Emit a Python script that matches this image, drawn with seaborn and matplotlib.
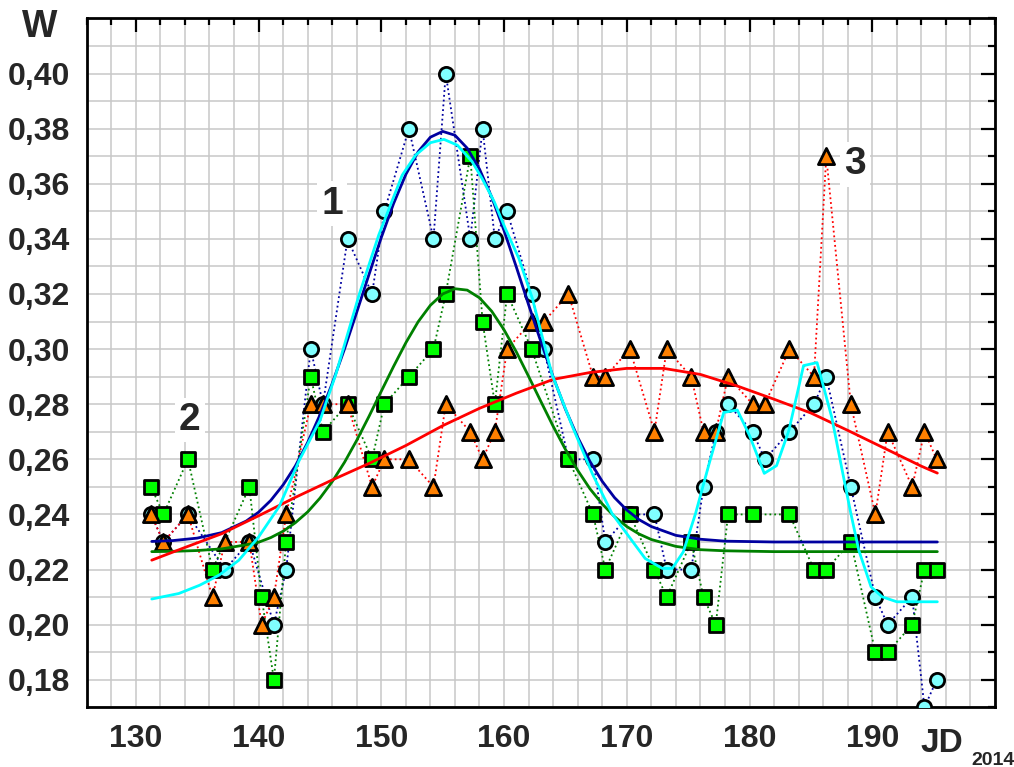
import numpy as np
import pandas as pd
import seaborn as sns
import matplotlib.pyplot as plt
from matplotlib.ticker import MultipleLocator, FuncFormatter

sns.set_theme(style="white")
plt.rcParams['font.family'] = ['Liberation Sans', 'DejaVu Sans']
plt.rcParams['font.weight'] = 'bold'

# series 1 (circles)
jd_1 = [131.25, 132.25, 134.25, 137.25, 139.25, 141.25, 142.25, 144.25, 145.25, 147.25,
        149.25, 150.25, 152.25, 154.25, 155.25, 157.25, 158.25, 159.25, 160.25, 162.25,
        163.25, 165.25, 167.25, 168.25, 170.25, 172.25, 173.25, 175.25, 176.25, 177.25,
        178.25, 180.25, 181.25, 183.25, 185.25, 186.25, 188.25, 190.25, 191.25, 193.25,
        194.25, 195.25]
w_1 = [0.24, 0.23, 0.24, 0.22, 0.23, 0.20, 0.22, 0.30, 0.28, 0.34,
       0.32, 0.35, 0.38, 0.34, 0.40, 0.34, 0.38, 0.34, 0.35, 0.32,
       0.30, 0.26, 0.26, 0.23, 0.24, 0.24, 0.22, 0.22, 0.25, 0.27,
       0.28, 0.27, 0.26, 0.27, 0.28, 0.29, 0.25, 0.21, 0.20, 0.21,
       0.17, 0.18]

# series 2 (squares)
jd_2 = [131.25, 132.25, 134.25, 136.25, 139.25, 140.25, 141.25, 142.25, 144.25, 145.25,
        147.25, 149.25, 150.25, 152.25, 154.25, 155.25, 157.25, 158.25, 159.25, 160.25,
        162.25, 165.25, 167.25, 168.25, 170.25, 172.25, 173.25, 175.25, 176.25, 177.25,
        178.25, 180.25, 183.25, 185.25, 186.25, 188.25, 190.25, 191.25, 193.25, 194.25,
        195.25]
w_2 = [0.25, 0.24, 0.26, 0.22, 0.25, 0.21, 0.18, 0.23, 0.29, 0.27,
       0.28, 0.26, 0.28, 0.29, 0.30, 0.32, 0.37, 0.31, 0.28, 0.32,
       0.30, 0.26, 0.24, 0.22, 0.24, 0.22, 0.21, 0.23, 0.21, 0.20,
       0.24, 0.24, 0.24, 0.22, 0.22, 0.23, 0.19, 0.19, 0.20, 0.22,
       0.22]

# series 3 (triangles)
jd_3 = [131.25, 132.25, 134.25, 136.25, 137.25, 139.25, 140.25, 141.25, 142.25, 144.25,
        145.25, 147.25, 149.25, 150.25, 152.25, 154.25, 155.25, 157.25, 158.25, 159.25,
        160.25, 162.25, 163.25, 165.25, 167.25, 168.25, 170.25, 172.25, 173.25, 175.25,
        176.25, 177.25, 178.25, 180.25, 181.25, 183.25, 185.25, 186.25, 188.25, 190.25,
        191.25, 193.25, 194.25, 195.25]
w_3 = [0.24, 0.23, 0.24, 0.21, 0.23, 0.23, 0.20, 0.21, 0.24, 0.28,
       0.28, 0.28, 0.25, 0.26, 0.26, 0.25, 0.28, 0.27, 0.26, 0.27,
       0.30, 0.31, 0.31, 0.32, 0.29, 0.29, 0.30, 0.27, 0.30, 0.29,
       0.27, 0.27, 0.29, 0.28, 0.28, 0.30, 0.29, 0.37, 0.28, 0.24,
       0.27, 0.25, 0.27, 0.26]

# fitted curves
fit_x = [131.3, 133, 135, 137, 139, 140, 141, 142, 143, 144, 145, 146, 147, 148, 149,
         150, 151, 152, 153, 154, 155, 156, 157, 158, 159, 160, 161, 162, 163, 164,
         165, 166, 167, 168, 169, 170, 171, 172, 174, 176, 178, 182, 195.3]
fit_1 = [0.2302, 0.2305, 0.2314, 0.2334, 0.2376, 0.2408, 0.2451, 0.2507, 0.2576, 0.2661,
         0.2761, 0.2875, 0.3000, 0.3134, 0.3271, 0.3405, 0.3528, 0.3634, 0.3716, 0.3769,
         0.3790, 0.3776, 0.3729, 0.3653, 0.3551, 0.3430, 0.3298, 0.3161, 0.3027, 0.2899,
         0.2782, 0.2680, 0.2592, 0.2520, 0.2461, 0.2416, 0.2381, 0.2356, 0.2324, 0.2310,
         0.2303, 0.2300, 0.2300]
fit_2 = [0.2265, 0.2266, 0.2269, 0.2275, 0.2290, 0.2299, 0.2316, 0.2339, 0.2370, 0.2409,
         0.2459, 0.2519, 0.2589, 0.2669, 0.2756, 0.2847, 0.2937, 0.3023, 0.3099, 0.3159,
         0.3200, 0.3219, 0.3214, 0.3186, 0.3137, 0.3070, 0.2990, 0.2901, 0.2810, 0.2720,
         0.2636, 0.2560, 0.2493, 0.2438, 0.2392, 0.2356, 0.2329, 0.2309, 0.2284, 0.2272,
         0.2268, 0.2265, 0.2265]

fit3_x = [131.3, 134, 137, 140, 143, 146, 149, 152, 155, 158, 161, 164, 167, 170, 173,
          176, 179, 182, 185, 188, 191, 194, 195.3]
fit_3 = [0.2234, 0.2280, 0.2330, 0.2395, 0.2462, 0.2525, 0.2585, 0.2650, 0.2722, 0.2785,
         0.2840, 0.2890, 0.2915, 0.2930, 0.2930, 0.2908, 0.2866, 0.2818, 0.2768, 0.2705,
         0.2640, 0.2575, 0.2550]

smooth_x = [131.3, 133.5, 135.2, 136.8, 138.4, 140.0, 141.7, 143.3, 145.0, 146.3, 148.2,
            149.8, 151.7, 152.8, 154.0, 155.1, 156.2, 157.4, 158.2, 159.2, 160.1, 161.2,
            162.3, 163.9, 165.6, 167.2, 168.8, 170.4, 171.5, 172.9, 173.7, 174.6, 175.6,
            176.7, 177.9, 179.0, 180.0, 181.2, 182.2, 183.2, 184.4, 185.5, 186.7, 187.5,
            188.2, 188.9, 189.9, 190.8, 192.0, 195.3]
smooth_1 = [0.2093, 0.2113, 0.2143, 0.2180, 0.2234, 0.2318, 0.2430, 0.2595, 0.2740, 0.2909,
            0.3198, 0.3415, 0.3631, 0.3704, 0.3749, 0.3761, 0.3740, 0.3680, 0.3620, 0.3535,
            0.3438, 0.3330, 0.3185, 0.2909, 0.2716, 0.2547, 0.2403, 0.2306, 0.2240, 0.2204,
            0.2204, 0.2264, 0.2403, 0.2583, 0.2770, 0.2779, 0.2686, 0.2549, 0.2577, 0.2704,
            0.2940, 0.2951, 0.2752, 0.2571, 0.2415, 0.2270, 0.2137, 0.2101, 0.2083, 0.2083]

labels = ['1', '2', '3']
label_x = [146.0, 134.4, 188.6]
label_y = [0.3528, 0.2743, 0.367]

fig, ax = plt.subplots(figsize=(10.14, 7.67), dpi=100)
fig.subplots_adjust(left=0.0855, right=0.9813, bottom=0.0778, top=0.976)

# dotted connections
sns.lineplot(x=jd_1, y=w_1, color='#0000a0', linestyle=':', lw=1.3, sort=False, estimator=None, ax=ax, zorder=2)
sns.lineplot(x=jd_2, y=w_2, color='#008000', linestyle=':', lw=1.3, sort=False, estimator=None, ax=ax, zorder=2)
sns.lineplot(x=jd_3, y=w_3, color='#ff0000', linestyle=':', lw=1.3, sort=False, estimator=None, ax=ax, zorder=2)

# markers
sns.scatterplot(x=jd_1, y=w_1, marker='o', s=105, color='#80ffff', edgecolor='black', linewidth=2.0, ax=ax, zorder=3)
sns.scatterplot(x=jd_2, y=w_2, marker='s', s=95, color='#00ff00', edgecolor='black', linewidth=2.0, ax=ax, zorder=4)
sns.scatterplot(x=jd_3, y=w_3, marker='^', s=135, color='#ff8000', edgecolor='black', linewidth=2.0, ax=ax, zorder=5)

# fitted curves
sns.lineplot(x=fit_x, y=fit_1, color='#0000a0', lw=2.0, sort=False, estimator=None, ax=ax, zorder=6)
sns.lineplot(x=fit_x, y=fit_2, color='#008000', lw=2.0, sort=False, estimator=None, ax=ax, zorder=6)
sns.lineplot(x=fit3_x, y=fit_3, color='#ff0000', lw=2.0, sort=False, estimator=None, ax=ax, zorder=6)
sns.lineplot(x=smooth_x, y=smooth_1, color='#00ffff', lw=2.0, sort=False, estimator=None, ax=ax, zorder=6)

for t, lx, ly in zip(labels, label_x, label_y):
    ax.text(lx, ly, t, fontsize=28, fontweight='bold', ha='center', va='center', zorder=2.5,
            bbox=dict(fc='white', ec='none', pad=3))

ax.set_xlim(126, 200)
ax.set_ylim(0.17, 0.42)
ax.set_xticks([130, 140, 150, 160, 170, 180, 190])
ax.set_yticks(np.arange(0.18, 0.401, 0.02))
ax.xaxis.set_minor_locator(MultipleLocator(2))
ax.yaxis.set_minor_locator(MultipleLocator(0.01))
ax.yaxis.set_major_formatter(FuncFormatter(lambda v, p: f'{v:.2f}'.replace('.', ',')))
ax.grid(which='both', color='#c8c8c8', lw=1.1)
ax.set_axisbelow(True)
ax.tick_params(which='both', direction='in', top=True, right=True, color='black', width=1.6)
ax.tick_params(which='major', length=10, labelsize=23, pad=12)
ax.tick_params(which='minor', length=5)
for lab in ax.get_xticklabels() + ax.get_yticklabels():
    lab.set_fontweight('bold')
for sp in ax.spines.values():
    sp.set_color('black')
    sp.set_linewidth(2)
ax.set_xlabel('')
ax.set_ylabel('')

fig.text(0.0392, 0.965, 'W', fontsize=27, fontweight='bold', ha='center', va='center')
fig.text(0.9073, 0.020, 'JD', fontsize=24, fontweight='bold', ha='left', va='baseline')
fig.text(0.9583, 0.003, '2014', fontsize=14, fontweight='bold', ha='left', va='baseline')

plt.savefig('out.png', dpi=100)
